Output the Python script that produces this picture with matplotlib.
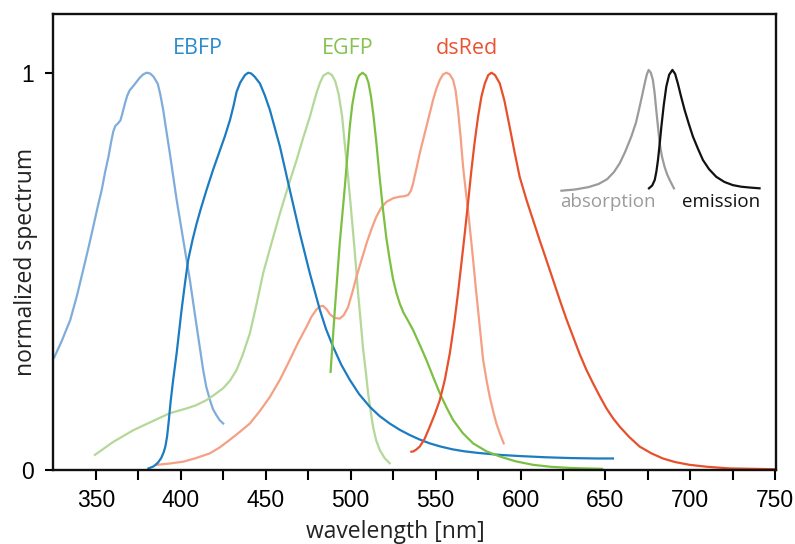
import matplotlib
matplotlib.use("Agg")
import matplotlib.pyplot as plt
from matplotlib.ticker import FixedLocator

# ---- spectra (wavelength in nm, normalized intensity) ----
ebfp_abs_x = [325.5, 330, 335, 339, 343.5, 346, 348.5, 351, 353.5, 355.5, 357.5, 359, 360.3,
              361.5, 363.2, 364.5, 365.5, 367.2, 368.5, 370, 372, 374, 376, 378, 380, 382,
              384, 386.5, 388, 389.7, 391.5, 393.6, 397.6, 401.5, 405.4, 409.4, 413.2, 415,
              417.2, 419, 421, 423, 425]
ebfp_abs_y = [0.283, 0.325, 0.378, 0.44, 0.52, 0.565, 0.612, 0.66, 0.705, 0.75, 0.789, 0.825,
              0.852, 0.866, 0.873, 0.88, 0.895, 0.923, 0.942, 0.956, 0.966, 0.977, 0.988, 0.996,
              1.0, 0.998, 0.99, 0.972, 0.945, 0.906, 0.855, 0.797, 0.68, 0.579, 0.478, 0.361,
              0.252, 0.21, 0.176, 0.153, 0.138, 0.125, 0.117]

ebfp_em_x = [381, 384, 386.5, 388.5, 390, 391, 392, 393, 394, 395.5, 397.6, 400.5, 402.5, 404.4,
             407, 409.4, 412, 415.2, 419, 423.1, 426, 429, 431, 432.9, 435, 437.8, 439.7, 441.5,
             443.5, 446.6, 449.5, 452.5, 458.4, 464.2, 470.1, 476, 481.9, 485.5, 489.7, 494.5,
             499.5, 505, 511.3, 517, 523, 529, 534.8, 540.5, 546.6, 553, 560, 567, 575, 587.8,
             600, 615, 630, 645, 654.4]
ebfp_em_y = [0.004, 0.009, 0.018, 0.03, 0.045, 0.06, 0.085, 0.125, 0.17, 0.225, 0.294, 0.403,
             0.47, 0.529, 0.58, 0.621, 0.66, 0.705, 0.755, 0.805, 0.84, 0.881, 0.915, 0.952,
             0.975, 0.994, 1.0, 0.998, 0.99, 0.973, 0.943, 0.906, 0.814, 0.705, 0.596, 0.495,
             0.403, 0.355, 0.310, 0.265, 0.227, 0.191, 0.159, 0.136, 0.117, 0.101, 0.088, 0.077,
             0.067, 0.059, 0.052, 0.047, 0.043, 0.038, 0.035, 0.032, 0.030, 0.029, 0.029]

egfp_abs_x = [349.5, 360, 372, 383, 393.6, 403.5, 409, 415.2, 420, 425, 429, 432.9, 436.5, 440.7,
              444.5, 448.5, 453.5, 458.4, 463.3, 468.2, 472, 476, 478, 480, 482, 484, 486.8,
              489, 491, 493, 495, 496.8, 498.5, 500, 501.5, 503, 504.4, 506, 507.4, 509, 510.3,
              511.8, 513.2, 515, 517.2, 520, 523]
egfp_abs_y = [0.038, 0.07, 0.10, 0.122, 0.143, 0.155, 0.163, 0.176, 0.19, 0.206, 0.225, 0.252,
              0.29, 0.344, 0.415, 0.495, 0.572, 0.646, 0.715, 0.780, 0.835, 0.889, 0.92, 0.95,
              0.975, 0.993, 1.0, 0.994, 0.978, 0.945, 0.89, 0.81, 0.738, 0.668, 0.596, 0.52,
              0.445, 0.37, 0.302, 0.245, 0.193, 0.148, 0.109, 0.075, 0.050, 0.03, 0.017]

egfp_em_x = [488.2, 490.7, 493.6, 496.6, 499.5, 501, 502.5, 503.8, 505, 507, 509, 510.5, 512,
             513.5, 515.2, 517, 519.1, 521, 523, 525, 527, 529, 531, 533.5, 536.8, 540.5, 544.6,
             548.5, 552.5, 556.5, 560.3, 566, 572.1, 580, 587.8, 597, 607.4, 618, 630, 648]
egfp_em_y = [0.247, 0.403, 0.571, 0.713, 0.864, 0.92, 0.956, 0.98, 0.993, 1.0, 0.993, 0.975,
             0.94, 0.89, 0.822, 0.74, 0.654, 0.585, 0.529, 0.48, 0.445, 0.418, 0.397, 0.378,
             0.352, 0.317, 0.277, 0.235, 0.193, 0.157, 0.126, 0.093, 0.067, 0.047, 0.034, 0.022,
             0.013, 0.008, 0.005, 0.003]

dsred_abs_x = [385.8, 393, 401.5, 409, 417.2, 423, 428.9, 434.5, 440.7, 446.5, 452.5, 458.5,
               464.2, 469, 474.1, 477, 479.9, 482, 483.8, 485.8, 487.8, 490.5, 493.6, 496,
               498.5, 501, 503.5, 506.5, 509.4, 512.3, 515.2, 518, 521.1, 525, 528.9, 531.5,
               533.8, 535.5, 536.8, 538.8, 540.7, 542.6, 544.6, 546.6, 548.5, 550.5, 552.5,
               554.5, 556.4, 558.3, 560.3, 561.8, 563.2, 564.7, 566.2, 567.7, 569.1, 570.6,
               572.1, 573.5, 575, 576.5, 578, 580, 581.9, 583.9, 585.8, 588, 590.1]
dsred_abs_y = [0.013, 0.016, 0.021, 0.03, 0.042, 0.057, 0.076, 0.095, 0.117, 0.148, 0.184,
               0.228, 0.277, 0.32, 0.361, 0.386, 0.404, 0.412, 0.413, 0.405, 0.392, 0.383,
               0.381, 0.39, 0.41, 0.447, 0.487, 0.53, 0.571, 0.607, 0.638, 0.66, 0.675, 0.684,
               0.688, 0.689, 0.692, 0.703, 0.722, 0.76, 0.797, 0.83, 0.864, 0.898, 0.931, 0.96,
               0.982, 0.996, 1.0, 0.996, 0.982, 0.955, 0.906, 0.84, 0.763, 0.705, 0.654, 0.592,
               0.529, 0.466, 0.403, 0.34, 0.277, 0.226, 0.184, 0.148, 0.117, 0.09, 0.067]

dsred_em_x = [535.8, 537, 538.5, 540.7, 543.5, 546.6, 549.5, 552.5, 555.5, 558.4, 561, 563.2,
              565.2, 567.2, 569.2, 571.1, 573, 575, 577, 579, 581, 582.9, 585, 587.8, 590.5,
              593.6, 596.5, 599.5, 603.5, 607.4, 611.3, 615.2, 619.2, 623.1, 627, 630.9, 634.8,
              638.8, 642.7, 646.6, 650.6, 654.5, 658.4, 664, 670.1, 677, 683.8, 691, 699.5,
              710, 723, 736, 750]
dsred_em_y = [0.046, 0.047, 0.051, 0.059, 0.078, 0.109, 0.14, 0.176, 0.228, 0.294, 0.37, 0.445,
              0.52, 0.596, 0.676, 0.755, 0.825, 0.889, 0.94, 0.973, 0.994, 1.0, 0.994, 0.973,
              0.93, 0.864, 0.8, 0.738, 0.68, 0.629, 0.578, 0.529, 0.478, 0.428, 0.38, 0.336,
              0.292, 0.252, 0.218, 0.186, 0.155, 0.13, 0.109, 0.083, 0.059, 0.042, 0.029, 0.02,
              0.013, 0.008, 0.004, 0.003, 0.002]

# schematic key: generic absorption / emission pair
key_abs_x = [624.1, 632, 640, 646, 651, 655, 658.4, 661.5, 665.2, 668, 670.1, 671.7, 673.1,
             674.3, 675.4, 676.7, 677.9, 678.9, 679.9, 681, 681.9, 683.3, 684.8, 686.3, 687.8,
             690.3]
key_abs_y = [0.703, 0.706, 0.712, 0.72, 0.732, 0.75, 0.772, 0.8, 0.839, 0.875, 0.914, 0.945,
             0.973, 0.995, 1.007, 1.0, 0.982, 0.95, 0.906, 0.86, 0.822, 0.788, 0.763, 0.744,
             0.730, 0.709]
key_em_x = [675.6, 677.5, 679, 680, 680.9, 681.9, 682.9, 684.3, 685.8, 687.5, 689.4, 691, 692.6,
            694.5, 696.6, 699, 701.5, 704.5, 707.4, 711, 715.2, 720, 725, 730, 734.8, 740.7]
key_em_y = [0.709, 0.716, 0.730, 0.752, 0.780, 0.82, 0.864, 0.918, 0.965, 0.995, 1.007, 0.997,
            0.973, 0.94, 0.906, 0.872, 0.839, 0.808, 0.780, 0.757, 0.738, 0.725, 0.717, 0.713,
            0.711, 0.709]

protein_names = ["EBFP", "EGFP", "dsRed"]
protein_label_x = [410.1, 498.1, 568.4]
x_major_ticks = [350, 400, 450, 500, 550, 600, 650, 700, 750]
x_minor_ticks = [375, 425, 475, 525, 575, 625, 675, 725]
y_ticks = [0, 1]
y_tick_labels = ["0", "1"]

# ---- colours ----
c_ebfp_lbl, c_ebfp_abs, c_ebfp_em = "#2a8bcd", "#7eaddb", "#1b7cc1"
c_egfp_lbl, c_egfp_abs, c_egfp_em = "#86c251", "#b3d898", "#7cc043"
c_dsred_lbl, c_dsred_abs, c_dsred_em = "#ea5433", "#f5a084", "#e8502c"
c_key_abs, c_key_em = "#9b9b9b", "#111111"

label_font = "Open Sans"
tick_font = "Liberation Sans"

fig = plt.figure(figsize=(7.95, 5.44), dpi=100)
ax = fig.add_axes([53.3 / 795, 1 - 470 / 544, 722.4 / 795, 455.7 / 544])

lw = 1.6
ax.plot(ebfp_abs_x, ebfp_abs_y, color=c_ebfp_abs, lw=lw)
ax.plot(egfp_abs_x, egfp_abs_y, color=c_egfp_abs, lw=lw)
ax.plot(dsred_abs_x, dsred_abs_y, color=c_dsred_abs, lw=lw)
ax.plot(ebfp_em_x, ebfp_em_y, color=c_ebfp_em, lw=lw)
ax.plot(egfp_em_x, egfp_em_y, color=c_egfp_em, lw=lw)
ax.plot(dsred_em_x, dsred_em_y, color=c_dsred_em, lw=lw)
ax.plot(key_abs_x, key_abs_y, color=c_key_abs, lw=lw)
ax.plot(key_em_x, key_em_y, color=c_key_em, lw=lw)

for name, x, c in zip(protein_names, protein_label_x,
                      [c_ebfp_lbl, c_egfp_lbl, c_dsred_lbl]):
    ax.text(x, 1.062, name, color=c, ha="center", va="center",
            fontsize=15.5, family=label_font)

ax.text(623.6, 0.663, "absorption", color=c_key_abs, ha="left", va="baseline",
        fontsize=13.5, family=label_font)
ax.text(741, 0.663, "emission", color=c_key_em, ha="right", va="baseline",
        fontsize=13.5, family=label_font)

ax.set_xlim(325, 750 + 0.2)
ax.set_ylim(0, 1.147)

ax.xaxis.set_major_locator(FixedLocator(x_major_ticks))
ax.xaxis.set_minor_locator(FixedLocator(x_minor_ticks))
ax.yaxis.set_major_locator(FixedLocator(y_ticks))
ax.set_yticklabels(y_tick_labels)

ax.tick_params(axis="x", which="both", direction="out", length=7.5, width=1.5,
               pad=6, labelsize=16.5)
ax.tick_params(axis="y", which="both", direction="out", length=6, width=1.5,
               pad=8, labelsize=16.5)
for lbl in ax.get_xticklabels() + ax.get_yticklabels():
    lbl.set_family(tick_font)

for sp in ax.spines.values():
    sp.set_linewidth(1.7)
    sp.set_color("#111111")

ax.set_xlabel("wavelength [nm]", fontsize=16.5, family=label_font, color="#222222")
ax.xaxis.set_label_coords(0.474, -0.136)
ax.xaxis.label.set_va("center")
ax.set_ylabel("normalized spectrum", fontsize=16.5, family=label_font, color="#222222")
ax.yaxis.set_label_coords(-0.0378, 0.456)
ax.yaxis.label.set_va("center")

fig.savefig("out.png", dpi=100)
